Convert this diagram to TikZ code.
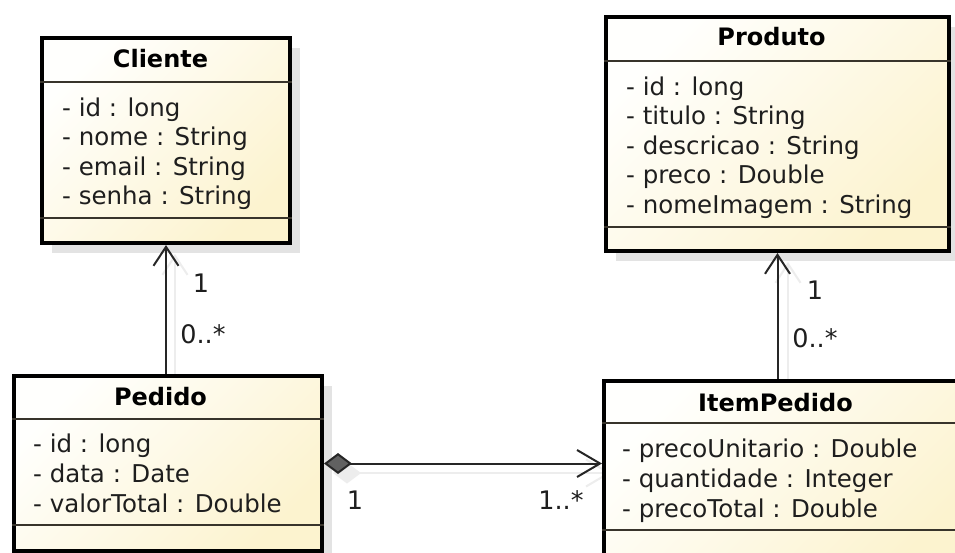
\documentclass[tikz,border=0pt]{standalone}
\usepackage{fontspec}
\setmainfont{DejaVu Sans}
\usetikzlibrary{arrows.meta,shadows,calc}

\definecolor{boxlight}{HTML}{FFFFFD}
\definecolor{boxyellow}{HTML}{FCF3CF}
\definecolor{ink}{HTML}{1E1E1E}
\definecolor{wire}{HTML}{262626}

\tikzset{
  umlclass/.style={rectangle, draw=black, line width=4pt, inner sep=0pt,
    anchor=north west, top color=boxlight, bottom color=boxyellow, shading angle=45,
    drop shadow={shadow xshift=10pt, shadow yshift=-10pt, fill=black!11, opacity=1}},
  compartment/.style={draw=black!80!olive, line width=2pt},
  classname/.style={anchor=base, inner sep=0pt, text=black,
    font=\fontsize{24pt}{29pt}\selectfont\bfseries},
  attribute/.style={anchor=base west, inner sep=0pt, text=ink,
    font=\fontsize{24.5pt}{29.5pt}\selectfont},
  multiplicity/.style={inner sep=0pt, text=ink,
    font=\fontsize{25.5pt}{30pt}\selectfont},
  assoc/.style={draw=wire, line width=2pt},
  navigable/.style={-{Straight Barb[length=19pt, width=25pt, line width=2pt]}},
  composite/.style={{Diamond[length=28pt, width=21pt, fill=black!62]}-{Straight Barb[length=23pt, width=27pt, line width=2pt]}},
  wireshadow/.style={draw=black!7, line width=2pt},
}

\begin{document}
\begin{tikzpicture}[x=1pt, y=-1pt]
\useasboundingbox (0,0) rectangle (955,552);
\clip (0,0) rectangle (955,552);
\fill[white] (0,0) rectangle (955,552);

% faint shadows of the associations
\begin{scope}[shift={(11,11)}]
  \draw[wireshadow, navigable] (164,372) -- (164,243);
  \draw[wireshadow, navigable] (777,377) -- (777,251);
  \draw[wireshadow, {Diamond[length=28pt, width=21pt, fill=black!7]}-{Straight Barb[length=23pt, width=27pt, line width=2pt]}] (322,462) -- (600,462);
\end{scope}

% classes
\node[umlclass, minimum width=248pt, minimum height=205pt] (cliente) at (40,36) {};
\node[umlclass, minimum width=343pt, minimum height=234pt] (produto) at (604,15) {};
\node[umlclass, minimum width=308pt, minimum height=175pt] (pedido) at (12,374) {};
\node[umlclass, minimum width=357pt, minimum height=200pt] (item) at (602,379) {};

% compartment separators
\draw[compartment] (cliente.west |- 0,82) -- (cliente.east |- 0,82);
\draw[compartment] (cliente.west |- 0,218) -- (cliente.east |- 0,218);
\draw[compartment] (produto.west |- 0,61) -- (produto.east |- 0,61);
\draw[compartment] (produto.west |- 0,227) -- (produto.east |- 0,227);
\draw[compartment] (pedido.west |- 0,419) -- (pedido.east |- 0,419);
\draw[compartment] (pedido.west |- 0,525) -- (pedido.east |- 0,525);
\draw[compartment] (item.west |- 0,423) -- (item.east |- 0,423);
\draw[compartment] (item.west |- 0,530) -- (item.east |- 0,530);

% class names
\node[classname] (cliente-name) at (160.5,67) {Cliente};
\node[classname] (produto-name) at (771.5,45) {Produto};
\node[classname] (pedido-name) at (160.5,405) {Pedido};
\node[classname] (item-name) at (775.5,411) {ItemPedido};

% attributes
\foreach \t [count=\i from 0] in {- id : long, - nome : String, - email : String, - senha : String}
  \node[attribute] (cliente-a\i) at (62,{116+29.5*\i}) {\t};
\foreach \t [count=\i from 0] in {- id : long, - titulo : String, - descricao : String, - preco : Double, - nomeImagem : String}
  \node[attribute] (produto-a\i) at (626,{95+29.5*\i}) {\t};
\foreach \t [count=\i from 0] in {- id : long, - data : Date, - valorTotal : Double}
  \node[attribute] (pedido-a\i) at (33,{452+30*\i}) {\t};
\foreach \t [count=\i from 0] in {- precoUnitario : Double, - quantidade : Integer, - precoTotal : Double}
  \node[attribute] (item-a\i) at (622,{457+30*\i}) {\t};

% associations
\draw[assoc, navigable] (cliente.south |- pedido.north) -- (cliente.south);
\draw[assoc, navigable] (produto.south |- item.north) -- (produto.south);
\draw[assoc, composite] (pedido.east) -- (pedido.east -| item.west);

% multiplicities
\node[multiplicity] (m-cliente) at (201,283) {1};
\node[multiplicity] (m-pedido-cli) at (203,334) {0..*};
\node[multiplicity] (m-produto) at (815,290) {1};
\node[multiplicity] (m-item-prod) at (815,338) {0..*};
\node[multiplicity] (m-pedido) at (355,500) {1};
\node[multiplicity] (m-item) at (561,500) {1..*};
\end{tikzpicture}
\end{document}
